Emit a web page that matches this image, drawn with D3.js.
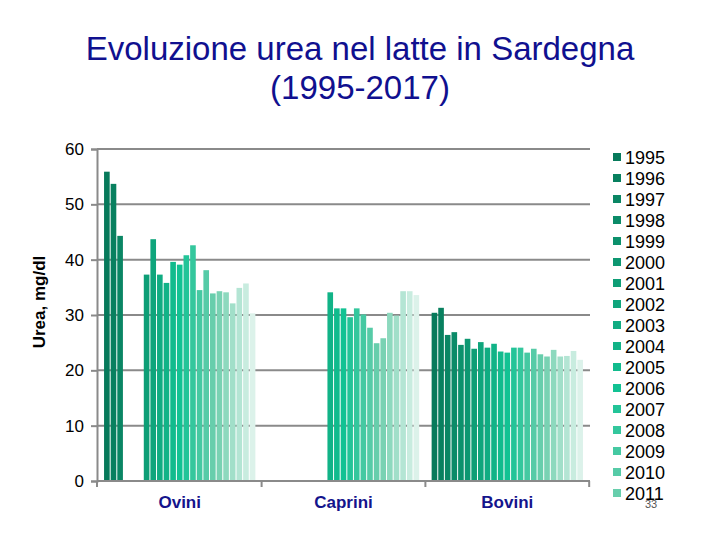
<!DOCTYPE html>
<html>
<head>
<meta charset="utf-8">
<script src="https://cdn.jsdelivr.net/npm/d3@7"></script>
<style>
  body { margin: 0; background: #fff; }
  svg { font-family: "Liberation Sans", Arial, sans-serif; }
</style>
</head>
<body>
<svg id="chart" width="720" height="540"></svg>
<script>
var categories = ['Ovini', 'Caprini', 'Bovini'];
var years = ['1995', '1996', '1997', '1998', '1999', '2000', '2001', '2002', '2003', '2004', '2005', '2006',
             '2007', '2008', '2009', '2010', '2011', '2012', '2013', '2014', '2015', '2016', '2017'];

// one value per year, null where no data
var ovini   = [55.9, 53.7, 44.3, null, null, null, 37.3, 43.7, 37.3, 35.8, 39.6, 39.1,
               40.8, 42.6, 34.5, 38.1, 33.9, 34.3, 34.1, 32.1, 34.9, 35.7, 30.3];
var caprini = [null, null, null, null, null, null, null, null, null, 34.1, 31.2, 31.2,
               29.6, 31.2, 30.1, 27.7, 24.9, 25.8, 30.4, 29.9, 34.3, 34.3, 33.6];
var bovini  = [30.4, 31.3, 26.4, 26.9, 24.6, 25.7, 23.9, 25.1, 24.1, 24.8, 23.4, 23.2,
               24.1, 24.1, 23.2, 23.9, 22.9, 22.5, 23.7, 22.5, 22.6, 23.5, 21.9];
var yTicks = [0, 10, 20, 30, 40, 50, 60];

var svg = d3.select('#chart');
var mLeft = 97, mRight = 590, mTop = 149, mBottom = 481;

// Title
svg.append('text').attr('x', 360).attr('y', 60).attr('text-anchor', 'middle')
   .attr('font-size', 33).attr('fill', '#10108f').text('Evoluzione urea nel latte in Sardegna');
svg.append('text').attr('x', 360).attr('y', 99).attr('text-anchor', 'middle')
   .attr('font-size', 33).attr('fill', '#10108f').text('(1995-2017)');

var x0 = d3.scaleBand().domain(categories).range([mLeft, mRight]).paddingInner(0.07).paddingOuter(0.04);
var x1 = d3.scaleBand().domain(years).range([0, x0.bandwidth()]);
var y = d3.scaleLinear().domain([0, 60]).range([mBottom, mTop]);

// colour ramp: dark teal -> bright teal -> pale
var ramp = d3.piecewise(d3.interpolateRgb, ['#077a5b', '#0e9a73', '#12c293', '#6fcfae', '#dcf2ea']);
var color = d3.scaleOrdinal().domain(years).range(years.map((d, i) => ramp(i / (years.length - 1))));

// gridlines
svg.append('g').selectAll('line').data(yTicks.filter((d) => d > 0)).enter().append('line')
   .attr('x1', mLeft).attr('x2', mRight)
   .attr('y1', (d) => y(d)).attr('y2', (d) => y(d))
   .attr('stroke', '#8a8a8a').attr('stroke-width', 2);

// bars
var table = [ovini, caprini, bovini];
var groups = svg.append('g').selectAll('g').data(categories).enter().append('g')
   .attr('transform', (d) => 'translate(' + x0(d) + ',0)');
groups.selectAll('rect')
   .data((d, i) => years.map((yr, j) => ({year: yr, v: table[i][j]})).filter((e) => e.v !== null))
   .enter().append('rect')
   .attr('x', (d) => x1(d.year) + 0.5)
   .attr('width', x1.bandwidth() - 1)
   .attr('y', (d) => y(d.v))
   .attr('height', (d) => y(0) - y(d.v))
   .attr('fill', (d) => color(d.year));

// y axis
var yAxis = svg.append('g').attr('transform', 'translate(' + mLeft + ',0)')
   .call(d3.axisLeft(y).tickValues(yTicks).tickSize(6).tickPadding(7));
yAxis.select('.domain').attr('stroke', '#8a8a8a').attr('stroke-width', 2);
yAxis.selectAll('.tick line').attr('stroke', '#8a8a8a').attr('stroke-width', 2);
yAxis.selectAll('.tick text').attr('font-size', 17).attr('fill', '#000')
   .attr('font-family', '"Liberation Sans", Arial, sans-serif');

// x axis
var xAxis = svg.append('g').attr('transform', 'translate(0,' + mBottom + ')');
xAxis.append('line').attr('x1', mLeft).attr('x2', mRight).attr('stroke', '#8a8a8a').attr('stroke-width', 2);
xAxis.selectAll('line.tk').data([mLeft].concat(categories.map((c) => x0(c) + x0.bandwidth() + x0.step() * 0.035)))
   .enter().append('line').classed('tk', true)
   .attr('x1', (d) => d).attr('x2', (d) => d).attr('y1', 0).attr('y2', 6)
   .attr('stroke', '#8a8a8a').attr('stroke-width', 2);
xAxis.selectAll('text').data(categories).enter().append('text')
   .attr('x', (d) => x0(d) + x0.bandwidth() / 2).attr('y', 27)
   .attr('text-anchor', 'middle').attr('font-size', 17).attr('font-weight', 'bold')
   .attr('fill', '#14148c').text((d) => d);

// y label
svg.append('text').attr('transform', 'translate(45,302) rotate(-90)')
   .attr('text-anchor', 'middle').attr('font-size', 17).attr('font-weight', 'bold')
   .text('Urea, mg/dl');

// legend: the slide cuts it after 2011, so only the entries that fit are drawn
var legY = (i) => 158 + i * 21;
var legend = svg.append('g').selectAll('g').data(years.filter((d, i) => legY(i) < 505)).enter().append('g')
   .attr('transform', (d, i) => 'translate(613,' + legY(i) + ')');
legend.append('rect').attr('x', 0).attr('y', -5).attr('width', 8).attr('height', 8)
   .attr('fill', (d) => color(d));
legend.append('text').attr('x', 12).attr('y', 0).attr('dy', '0.35em')
   .attr('font-size', 18).text((d) => d);

// slide number
svg.append('text').attr('x', 651).attr('y', 508).attr('text-anchor', 'middle')
   .attr('font-size', 11).attr('fill', '#555').text('33');
</script>
</body>
</html>
